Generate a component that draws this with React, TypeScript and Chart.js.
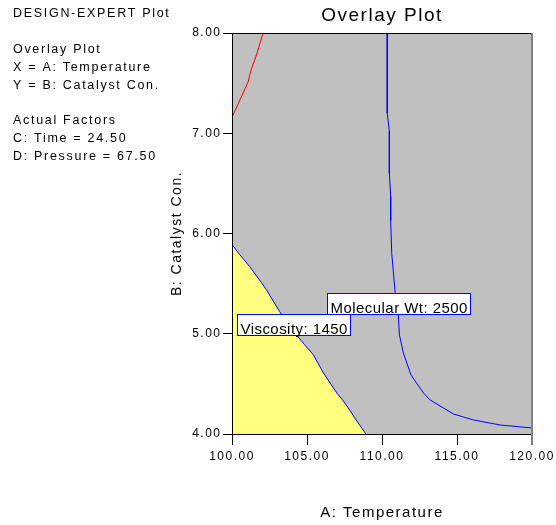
import React, { useEffect, useRef } from 'react';
import { Chart, registerables } from 'chart.js';

Chart.register(...registerables);

const FONT = "'Liberation Sans', Arial, Helvetica, sans-serif";

// Tick values
const xTicks = [100, 105, 110, 115, 120];
const yTicks = [4, 5, 6, 7, 8];

// Viscosity = 1450 contour (boundary of yellow region)
const viscosityX = [100, 100.51, 101.18, 101.96, 102.29, 103.18, 104.18, 104.84, 105.42, 106.09, 106.98, 107.42, 107.98, 108.13, 108.93];
const viscosityY = [5.89, 5.79, 5.67, 5.51, 5.44, 5.22, 5.01, 4.89, 4.79, 4.61, 4.41, 4.33, 4.21, 4.17, 4.0];

// Red contour (upper left)
const redX = [100, 101.07, 101.25, 101.67, 102.07];
const redY = [7.16, 7.51, 7.62, 7.8, 8.0];

// Molecular Wt = 2500 contour
const molWtX = [110.35, 110.35, 110.49, 110.49, 110.58, 110.58, 110.65, 110.87, 111.0, 111.09, 111.16, 111.42, 111.93, 112.76, 113.2, 114.09, 114.76, 115.42, 116.09, 117.87, 120];
const molWtY = [8.0, 7.2, 7.02, 6.6, 6.37, 6.13, 5.8, 5.42, 5.3, 5.18, 4.99, 4.81, 4.59, 4.41, 4.34, 4.26, 4.2, 4.17, 4.14, 4.09, 4.06];

// Contour labels (anchored at box top-left in data units)
const contourLabels = ['Molecular Wt: 2500', 'Viscosity: 1450'];
const contourLabelX = [106.31, 100.31];
const contourLabelY = [5.41, 5.2];

// Info text on the left
const infoLines = [
  'DESIGN-EXPERT Plot',
  '',
  'Overlay Plot',
  'X = A: Temperature',
  'Y = B: Catalyst Con.',
  '',
  'Actual Factors',
  'C: Time = 24.50',
  'D: Pressure = 67.50',
];

const toPts = (xs: number[], ys: number[]) => xs.map((x, i) => ({ x, y: ys[i] }));

const spacingPlugin = {
  id: 'spacingPlugin',
  beforeUpdate(chart: any) { chart.ctx.letterSpacing = '1.5px'; },
  beforeLayout(chart: any) { chart.ctx.letterSpacing = '1.5px'; },
  beforeDraw(chart: any) {
    const { ctx, chartArea: a } = chart;
    ctx.letterSpacing = '1.5px';
    ctx.save();
    ctx.fillStyle = '#C0C0C0';
    ctx.fillRect(a.left, a.top, a.right - a.left, a.bottom - a.top);
    ctx.restore();
  },
};

const labelPlugin = {
  id: 'labelPlugin',
  afterDatasetsDraw(chart: any) {
    const { ctx, scales } = chart;
    const xs = scales.x, ys = scales.y;
    ctx.save();
    ctx.font = `15px ${FONT}`;
    ctx.letterSpacing = '0.45px';
    ctx.textBaseline = 'alphabetic';
    ctx.textAlign = 'left';
    contourLabels.forEach((t, i) => {
      const left = Math.round(xs.getPixelForValue(contourLabelX[i])) + 0.5;
      const top = Math.round(ys.getPixelForValue(contourLabelY[i])) + 0.5;
      const w = Math.round(ctx.measureText(t).width + 6);
      const h = 21;
      ctx.fillStyle = '#FFFFFF';
      ctx.fillRect(left, top, w, h);
      ctx.strokeStyle = '#0000FF';
      ctx.lineWidth = 1;
      ctx.strokeRect(left, top, w, h);
      ctx.fillStyle = '#000000';
      ctx.fillText(t, left + 3, top + h - 1.5);
    });
    ctx.restore();
  },
  afterDraw(chart: any) {
    const { ctx, chartArea: a } = chart;
    ctx.save();
    // frame
    ctx.strokeStyle = '#000000';
    ctx.lineWidth = 1;
    ctx.beginPath();
    ctx.moveTo(a.left + 0.5, a.top);
    ctx.lineTo(a.left + 0.5, a.bottom + 1);
    ctx.moveTo(a.left, a.bottom + 0.5);
    ctx.lineTo(a.right, a.bottom + 0.5);
    ctx.moveTo(a.left, a.top + 0.5);
    ctx.lineTo(a.right, a.top + 0.5);
    ctx.stroke();
    ctx.fillStyle = '#808080';
    ctx.fillRect(a.right - 1, a.top, 2, a.bottom - a.top + 11);
    // info text
    ctx.font = `12.5px ${FONT}`;
    ctx.letterSpacing = '1.7px';
    ctx.fillStyle = '#000000';
    ctx.textBaseline = 'alphabetic';
    ctx.textAlign = 'left';
    infoLines.forEach((line, i) => {
      if (line) ctx.fillText(line, 13, 17.3 + i * 17.8);
    });
    ctx.restore();
  },
};

export default function App() {
  const ref = useRef<HTMLCanvasElement | null>(null);

  useEffect(() => {
    if (!ref.current) return;
    const chart = new Chart(ref.current, {
      type: 'scatter',
      data: {
        datasets: [
          {
            data: toPts(viscosityX, viscosityY),
            showLine: true,
            borderColor: '#0000FF',
            borderWidth: 1,
            backgroundColor: '#FFFF80',
            fill: 'start',
            pointRadius: 0,
            tension: 0,
          },
          {
            data: toPts(redX, redY),
            showLine: true,
            borderColor: '#FF0000',
            borderWidth: 1,
            fill: false,
            pointRadius: 0,
            tension: 0,
          },
          {
            data: toPts(molWtX, molWtY),
            showLine: true,
            borderColor: '#0000FF',
            borderWidth: 1,
            fill: false,
            pointRadius: 0,
            tension: 0,
          },
        ],
      },
      options: {
        animation: false,
        responsive: false,
        devicePixelRatio: 1,
        layout: { padding: { left: 0, right: 24, top: 0, bottom: 0 } },
        plugins: {
          legend: { display: false },
          tooltip: { enabled: false },
          title: {
            display: true,
            text: 'Overlay Plot',
            fullSize: false,
            color: '#000000',
            font: { family: FONT, size: 19, weight: 'normal' },
            padding: { top: 4.4, bottom: 5.8 },
          },
        },
        scales: {
          x: {
            type: 'linear',
            position: 'bottom',
            min: 100,
            max: 120,
            afterBuildTicks: (s: any) => { s.ticks = xTicks.map((v) => ({ value: v })); },
            afterFit: (s: any) => { s.height = 91; s.paddingLeft = 0; s.paddingRight = 0; },
            ticks: {
              callback: (v: any) => Number(v).toFixed(2),
              color: '#000000',
              font: { family: FONT, size: 12 },
              padding: 4,
              maxRotation: 0,
              autoSkip: false,
            },
            grid: { drawOnChartArea: false, tickLength: 11, color: '#000000', tickColor: '#000000' },
            border: { display: true, color: '#000000' },
            title: {
              display: true,
              text: 'A: Temperature',
              color: '#000000',
              font: { family: FONT, size: 15 },
              padding: { top: 0, bottom: 3.2 },
            },
          },
          y: {
            type: 'linear',
            position: 'left',
            min: 4,
            max: 8,
            afterBuildTicks: (s: any) => { s.ticks = yTicks.map((v) => ({ value: v })); },
            afterFit: (s: any) => { s.width = 232; s.paddingTop = 0; s.paddingBottom = 0; },
            ticks: {
              callback: (v: any) => Number(v).toFixed(2),
              color: '#000000',
              font: { family: FONT, size: 12 },
              padding: 1.5,
              autoSkip: false,
            },
            grid: { drawOnChartArea: false, tickLength: 9, color: '#000000', tickColor: '#000000' },
            border: { display: true, color: '#000000' },
            title: {
              display: true,
              text: 'B: Catalyst Con.',
              color: '#000000',
              font: { family: FONT, size: 14 },
              padding: { top: 168.3, bottom: 0 },
            },
          },
        },
      },
      plugins: [spacingPlugin, labelPlugin],
    } as any);
    return () => chart.destroy();
  }, []);

  return (
    <div style={{ position: 'absolute', left: 0, top: 0, width: 556, height: 525 }}>
      <canvas ref={ref} width={556} height={525} style={{ display: 'block', width: 556, height: 525 }} />
    </div>
  );
}
